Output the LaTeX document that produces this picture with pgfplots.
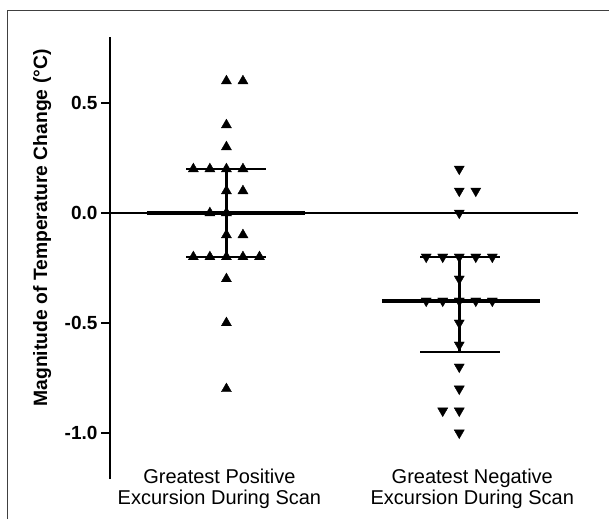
\documentclass[border=0pt]{standalone}
\usepackage{fontspec}
\setmainfont{Liberation Sans}
\usepackage{pgfplots}
\pgfplotsset{compat=1.18}
\begin{document}
\begin{tikzpicture}
\useasboundingbox (0,0) rectangle (609pt,519pt);
\draw[black!75, line width=1pt] (7pt,0) -- (7pt,508pt) -- (609pt,508pt);
\begin{axis}[
  at={(110pt,40pt)}, anchor=south west,
  scale only axis, width=468pt, height=442pt,
  xmin=0.5, xmax=2.51, ymin=-1.21, ymax=0.8,
  axis y line*=left, axis x line*=bottom,
  x axis line style={draw=none},
  y axis line style={line width=2.5pt, black},
  ytick={-1,-0.5,0,0.5}, yticklabels={-1.0,-0.5,0.0,0.5},
  yticklabel style={font=\bfseries\fontsize{19}{19}\selectfont, black},
  ytick style={line width=2.5pt, black},
  tick align=outside, major tick length=9pt,
  xtick={0.97,2.056},
  xticklabels={{Greatest Positive\\Excursion During Scan},{Greatest Negative\\Excursion During Scan}},
  xticklabel style={align=center, font=\fontsize{20}{21}\selectfont, anchor=north, yshift=23pt, black},
  xtick style={draw=none},
  /pgf/number format/assume math mode=true,
  clip=false,
  ylabel={\bfseries\fontsize{19.3}{19.3}\selectfont Magnitude of Temperature Change (°C)},
  every axis y label/.style={at={(axis description cs:-0.145,0.568)}, rotate=90, anchor=center},
]
% reference line at zero
\addplot[black, line width=2.5pt] coordinates {(0.5,0) (2.51,0)};
% group 1 median and whiskers
\addplot[black, line width=4.5pt] coordinates {(0.66,0) (1.336,0)};
\addplot[black, line width=2.5pt] coordinates {(0.828,0.2) (1.172,0.2)};
\addplot[black, line width=2.5pt] coordinates {(0.828,-0.2) (1.172,-0.2)};
\addplot[black, line width=2.5pt] coordinates {(1,0.2) (1,-0.2)};
% group 2 median and whiskers
\addplot[black, line width=4.5pt] coordinates {(1.668,-0.4) (2.345,-0.4)};
\addplot[black, line width=2.5pt] coordinates {(1.832,-0.2) (2.177,-0.2)};
\addplot[black, line width=2.5pt] coordinates {(1.832,-0.632) (2.177,-0.632)};
\addplot[black, line width=2.5pt] coordinates {(2,-0.2) (2,-0.632)};
% group 1 points
\addplot[only marks, mark=triangle*, mark size=5.8pt, black] coordinates {
  (1,0.6) (1.071,0.6)
  (1,0.4) (1,0.3)
  (0.858,0.2) (0.929,0.2) (1,0.2) (1.071,0.2)
  (1,0.1) (1.071,0.1)
  (0.929,0) (1,0)
  (1,-0.1) (1.071,-0.1)
  (0.858,-0.2) (0.929,-0.2) (1,-0.2) (1.071,-0.2) (1.142,-0.2)
  (1,-0.3) (1,-0.5) (1,-0.8)
};
% group 2 points
\addplot[only marks, mark=triangle*, mark size=5.8pt, black, mark options={rotate=180}] coordinates {
  (2,0.2)
  (2,0.1) (2.071,0.1)
  (2,0)
  (1.858,-0.2) (1.929,-0.2) (2,-0.2) (2.071,-0.2) (2.142,-0.2)
  (2,-0.3)
  (1.858,-0.4) (1.929,-0.4) (2,-0.4) (2.071,-0.4) (2.142,-0.4)
  (2,-0.5) (2,-0.6) (2,-0.7) (2,-0.8)
  (1.929,-0.9) (2,-0.9)
  (2,-1.0)
};
\end{axis}
\end{tikzpicture}
\end{document}
